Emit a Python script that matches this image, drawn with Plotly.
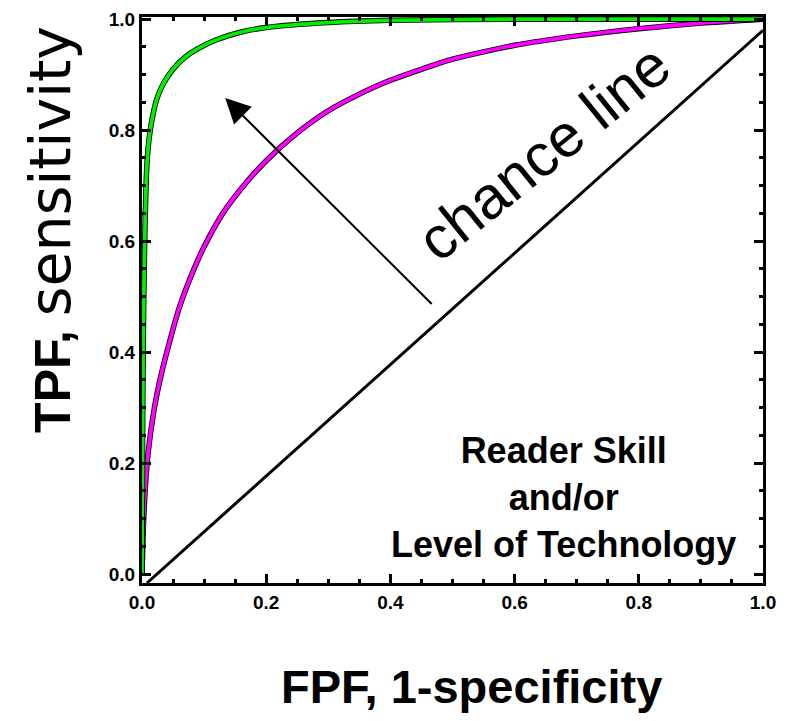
import plotly.graph_objects as go

# ---- data ----
green_x = [0, 0.001, 0.002, 0.004, 0.006, 0.008, 0.012, 0.018, 0.025, 0.035, 0.05, 0.07, 0.09, 0.12, 0.16, 0.2, 0.3, 0.4, 0.6, 1.0]
green_y = [0, 0.25, 0.42, 0.58, 0.68, 0.74, 0.79, 0.83, 0.86, 0.885, 0.91, 0.932, 0.947, 0.963, 0.977, 0.985, 0.994, 0.998, 1.0, 1.0]

magenta_x = [0, 0.002, 0.005, 0.01, 0.02, 0.03, 0.04, 0.06, 0.08, 0.1, 0.13, 0.16, 0.2, 0.25, 0.3, 0.35, 0.4, 0.5, 0.6, 0.7, 0.8, 0.9, 1.0]
magenta_y = [0, 0.08, 0.15, 0.22, 0.30, 0.355, 0.40, 0.48, 0.54, 0.59, 0.65, 0.695, 0.745, 0.795, 0.835, 0.865, 0.89, 0.928, 0.953, 0.97, 0.983, 0.993, 1.0]

chance_x = [0.008, 1.0]
chance_y = [-0.016, 0.98]

tick_vals = [0.0, 0.2, 0.4, 0.6, 0.8, 1.0]
tick_text = ["0.0", "0.2", "0.4", "0.6", "0.8", "1.0"]

FONT = "Liberation Sans, Arial, sans-serif"

fig = go.Figure()

fig.add_trace(go.Scatter(x=chance_x, y=chance_y, mode="lines",
                         line=dict(color="black", width=3), showlegend=False, hoverinfo="skip"))

for xs, ys, col in [(magenta_x, magenta_y, "#ff00ff"), (green_x, green_y, "#00ee00")]:
    fig.add_trace(go.Scatter(x=xs, y=ys, mode="lines",
                             line=dict(color="black", width=5.5, shape="spline", smoothing=0.6),
                             showlegend=False, hoverinfo="skip"))
    fig.add_trace(go.Scatter(x=xs, y=ys, mode="lines",
                             line=dict(color=col, width=3.8, shape="spline", smoothing=0.6),
                             showlegend=False, hoverinfo="skip"))

axis_common = dict(
    showgrid=False, zeroline=False,
    showline=True, linecolor="black", linewidth=3, mirror="ticks",
    ticks="inside", ticklen=9, tickwidth=3, tickcolor="black",
    tickvals=tick_vals, ticktext=tick_text,
    tickfont=dict(family=FONT, size=19, color="black", weight="bold"),
    minor=dict(ticks="inside", ticklen=4, tickwidth=3, tickcolor="black", dtick=0.05, tick0=0, showgrid=False),
)

fig.update_xaxes(range=[0, 1.0], **axis_common)
fig.update_yaxes(range=[-0.016, 1.004], **axis_common)

annotations = [
    # arrow
    dict(x=0.134, y=0.858, ax=0.469, ay=0.484, xref="x", yref="y", axref="x", ayref="y",
         text="", showarrow=True, arrowhead=2, arrowsize=2.5, arrowwidth=2, arrowcolor="black"),
    # chance line label
    dict(x=0.647, y=0.76, xref="x", yref="y", text="chance line", showarrow=False,
         textangle=-39, font=dict(family=FONT, size=60, color="black")),
    # reader skill block
    dict(x=0.678, y=0.138, xref="x", yref="y",
         text="Reader Skill<br>and/or<br>Level of Technology", showarrow=False,
         font=dict(family=FONT, size=36, color="black", weight="bold")),
    # y axis title
    dict(x=-0.148, y=0.624, xref="paper", yref="paper", textangle=-90, showarrow=False,
         text="<b>TPF,</b> <span style='font-family:DejaVu Sans;font-size:57px'>sensitivity</span>",
         font=dict(family=FONT, size=50, color="black"), xanchor="center", yanchor="middle"),
    # x axis title
    dict(x=0.531, y=-0.183, xref="paper", yref="paper", showarrow=False,
         text="FPF, 1-specificity", xanchor="center", yanchor="middle",
         font=dict(family=FONT, size=47, color="black", weight="bold")),
]

fig.update_layout(
    width=798, height=721,
    margin=dict(l=142, r=35, t=9, b=138),
    paper_bgcolor="white", plot_bgcolor="white",
    annotations=annotations,
    showlegend=False,
)

fig.write_html("out.html")
